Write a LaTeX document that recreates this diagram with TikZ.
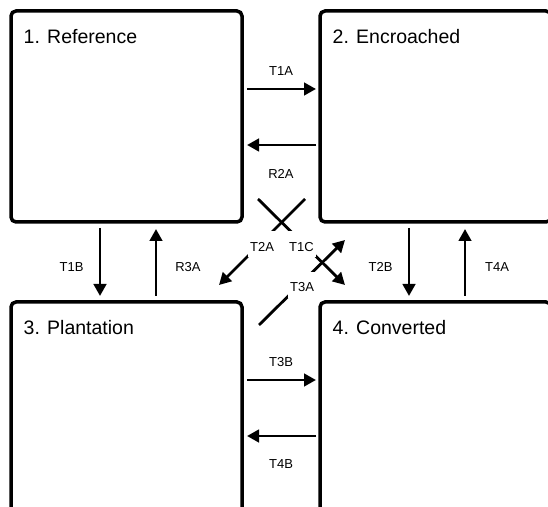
\documentclass[tikz,border=0pt]{standalone}
\usepackage{fontspec}
\setmainfont{Liberation Sans}
\usetikzlibrary{arrows.meta}
\tikzset{
  box/.style={draw, line width=3.5pt, rounded corners=5pt, minimum width=231pt, minimum height=211pt, outer sep=0pt, inner sep=0pt},
  title/.style={anchor=base west, inner sep=0pt, font=\fontsize{19.5}{23}\selectfont},
  flow/.style={line width=2.8pt, -{Triangle[length=12pt,width=12.5pt]}},
  tag/.style={inner sep=0pt, font=\fontsize{13}{15}\selectfont},
  cut/.style={tag, fill=white, minimum width=28pt, minimum height=26pt, text height=14pt, text depth=0pt}
}

\begin{document}
\begin{tikzpicture}[x=1pt, y=1pt]
        \useasboundingbox (0,0) rectangle (548,506);
        \clip (0,0) rectangle (548,506);

        %% states
        \node[box] (ref) at (126.5,389.5) {};
        \node[box] (enc) at (435.5,389.5) {};
        \node[box] (pla) at (126.5,98.5) {};
        \node[box] (con) at (435.5,98.5) {};
        \node[title] (ref-t) at ([xshift=12.5pt,yshift=-32.5pt]ref.north west) {1. Reference};
        \node[title] (enc-t) at ([xshift=12.5pt,yshift=-32.5pt]enc.north west) {2. Encroached};
        \node[title] (pla-t) at ([xshift=12.5pt,yshift=-32.5pt]pla.north west) {3. Plantation};
        \node[title] (con-t) at ([xshift=12.5pt,yshift=-32.5pt]con.north west) {4. Converted};

        % side to side
        \draw[flow, shorten <=5pt, shorten >=4pt] ([yshift=-78pt]ref.north east) -- node[tag, yshift=18pt] {T1A} ([yshift=-78pt]enc.north west);
        \draw[flow, shorten <=4pt, shorten >=5pt] ([yshift=-134pt]enc.north west) -- node[tag, yshift=-28.5pt] {R2A} ([yshift=-134pt]ref.north east);
        \draw[flow, shorten <=5pt, shorten >=4pt] ([yshift=-78pt]pla.north east) -- node[tag, yshift=18pt] {T3B} ([yshift=-78pt]con.north west);
        \draw[flow, shorten <=4pt, shorten >=5pt] ([yshift=-134pt]con.north west) -- node[tag, yshift=-28.5pt] {T4B} ([yshift=-134pt]pla.north east);

        % up and down
        \draw[flow, shorten <=6pt, shorten >=6pt] ([xshift=89pt]ref.south west) -- node[tag, xshift=-28.5pt, yshift=-4.7pt] {T1B} ([xshift=89pt]pla.north west);
        \draw[flow, shorten <=6pt, shorten >=7pt] ([xshift=145pt]pla.north west) -- node[tag, xshift=32pt, yshift=-4.7pt] {R3A} ([xshift=145pt]ref.south west);
        \draw[flow, shorten <=6pt, shorten >=6pt] ([xshift=89pt]enc.south west) -- node[tag, xshift=-28.5pt, yshift=-4.7pt] {T2B} ([xshift=89pt]con.north west);
        \draw[flow, shorten <=6pt, shorten >=7pt] ([xshift=145pt]con.north west) -- node[tag, xshift=32pt, yshift=-4.7pt] {T4A} ([xshift=145pt]enc.south west);

        % across
        \draw[flow] ([xshift=-15pt,yshift=23pt]enc.south west) -- node[cut, yshift=-2.35pt] {T2A} ([xshift=-23pt,yshift=17pt]pla.north east);
        \draw[flow] ([xshift=16pt,yshift=23pt]ref.south east) -- node[cut, yshift=-2.35pt] {T1C} ([xshift=25pt,yshift=17pt]con.north west);
        \draw[flow] ([xshift=17pt,yshift=-23pt]pla.north east) -- node[cut, yshift=-2.35pt] {T3A} ([xshift=25pt,yshift=-18pt]enc.south west);
    \end{tikzpicture}
\end{document}
